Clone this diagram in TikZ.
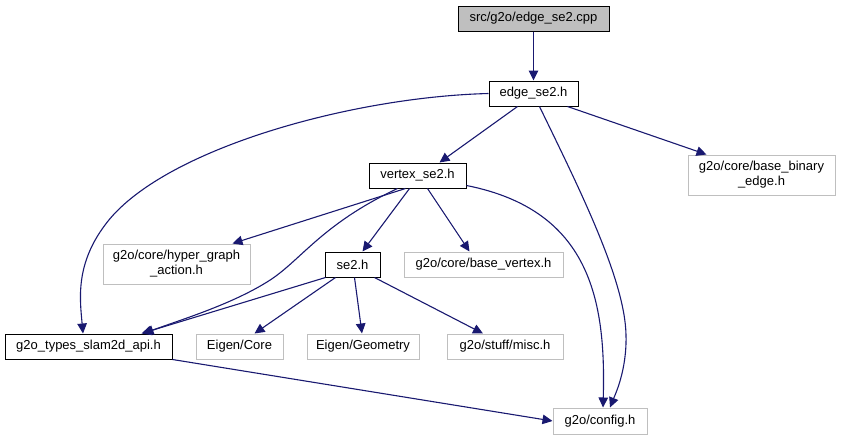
\documentclass[tikz,border=0pt]{standalone}
\usepackage{fontspec}
\setmainfont{Liberation Sans}
\usetikzlibrary{arrows.meta,calc}
\definecolor{edgeblue}{HTML}{191970}
\definecolor{lgray}{HTML}{BFBFBF}
\begin{document}
\begin{tikzpicture}[x=1pt,y=-1pt,
  box/.style={draw=black,line width=1pt,rectangle,inner sep=0pt,align=center,font=\fontsize{13}{15}\selectfont},
  gbox/.style={box,draw=lgray},
  conn/.style={draw=edgeblue,line width=1.1pt,-{Triangle[length=10pt,width=9.5pt]}}
]
\useasboundingbox (0,0) rectangle (841,440);
\node[box,fill=lgray,minimum width=151pt,minimum height=25pt] (cpp) at (533.5,18.5) {src/g2o/edge\_se2.cpp};
\node[box,minimum width=89pt,minimum height=25pt] (edge) at (533.5,93.5) {edge\_se2.h};
\node[box,minimum width=97pt,minimum height=25pt] (vertex) at (417.5,175.5) {vertex\_se2.h};
\node[gbox,minimum width=147pt,minimum height=40pt] (binary) at (761.5,175) {g2o/core/base\_binary\\\_edge.h};
\node[gbox,minimum width=147pt,minimum height=40pt] (hyper) at (176.5,264) {g2o/core/hyper\_graph\\\_action.h};
\node[box,minimum width=55pt,minimum height=25pt] (se2) at (352.5,264.5) {se2.h};
\node[gbox,minimum width=159pt,minimum height=25pt] (bvertex) at (483.5,264.5) {g2o/core/base\_vertex.h};
\node[box,minimum width=167pt,minimum height=25pt] (api) at (88.5,346.5) {g2o\_types\_slam2d\_api.h};
\node[gbox,minimum width=87pt,minimum height=25pt] (ecore) at (239.5,346.5) {Eigen/Core};
\node[gbox,minimum width=112pt,minimum height=25pt] (egeom) at (363,346.5) {Eigen/Geometry};
\node[gbox,minimum width=116pt,minimum height=25pt] (misc) at (505,346.5) {g2o/stuff/misc.h};
\node[gbox,minimum width=94pt,minimum height=26pt] (config) at (600,421) {g2o/config.h};

\draw[conn] (cpp) -- (edge);
\draw[conn] (edge.west) .. controls (350,97) and (160,150) .. (105,225) .. controls (75,265) and (80,300) .. ($(api.north)+(-5.5,0)$);
\draw[conn] ($(edge.south)+(-16,0)$) -- ($(vertex.north)+(22,0)$);
\draw[conn] ($(edge.south)+(6,0)$) .. controls (580,190) and (625,280) .. (626,335) .. controls (627,370) and (615,395) .. ($(config.north)+(10,0)$);
\draw[conn] ($(edge.south)+(34,0)$) -- ($(binary.north)+(-55,0)$);
\draw[conn] ($(vertex.south)+(-12,0)$) -- ($(hyper.north)+(56,0)$);
\draw[conn] ($(vertex.south)+(-20,0)$) .. controls (320,225) and (300,262) .. (267,282) .. controls (230,305) and (180,320) .. ($(api.north)+(55,0)$);
\draw[conn] ($(vertex.south)+(-8,0)$) -- ($(se2.north)+(10,0)$);
\draw[conn] ($(vertex.south)+(10,0)$) -- ($(bvertex.north)+(-14,0)$);
\draw[conn] ($(vertex.east)+(0,10)$) .. controls (590,210) and (606,300) .. ($(config.north)+(3,0)$);
\draw[conn] ($(se2.south west)+(1,0)$) -- ($(api.north)+(53,0)$);
\draw[conn] ($(se2.south)+(-17,0)$) -- ($(ecore.north)+(15,0)$);
\draw[conn] ($(se2.south)+(2,0)$) -- ($(egeom.north)+(-1,0)$);
\draw[conn] ($(se2.south)+(22,0)$) -- ($(misc.north)+(-22,0)$);
\draw[conn] (api.south east) -- (config.west);
\end{tikzpicture}
\end{document}
